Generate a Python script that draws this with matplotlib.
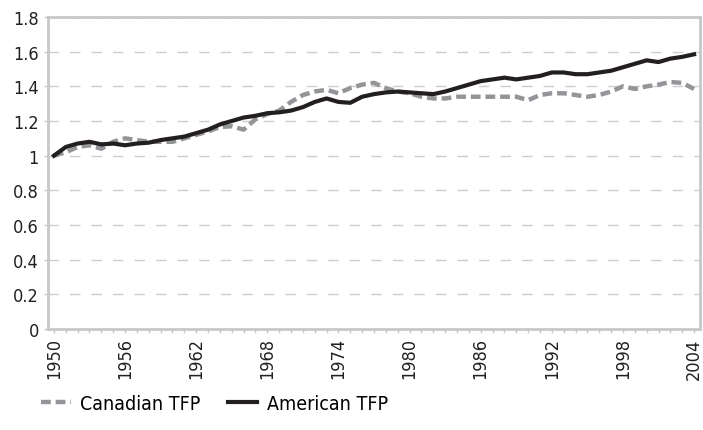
import matplotlib
matplotlib.use("Agg")
import matplotlib.pyplot as plt
from matplotlib.ticker import FuncFormatter

plt.rcParams['font.family'] = ['DejaVu Sans']
plt.rcParams['font.stretch'] = 'condensed'

years = list(range(1950, 2005))

canadian_tfp = [1.00, 1.02, 1.05, 1.06, 1.04, 1.08, 1.10, 1.09, 1.08, 1.08,
                1.08, 1.10, 1.12, 1.14, 1.165, 1.17, 1.15, 1.21, 1.24, 1.26,
                1.31, 1.35, 1.37, 1.38, 1.36, 1.39, 1.41, 1.42, 1.39, 1.37,
                1.36, 1.34, 1.33, 1.33, 1.34, 1.34, 1.34, 1.34, 1.34, 1.34,
                1.32, 1.35, 1.36, 1.36, 1.35, 1.34, 1.35, 1.37, 1.40, 1.385,
                1.40, 1.41, 1.425, 1.42, 1.385]

american_tfp = [1.00, 1.05, 1.07, 1.08, 1.065, 1.07, 1.06, 1.07, 1.075, 1.09,
                1.10, 1.11, 1.13, 1.15, 1.18, 1.20, 1.22, 1.23, 1.245, 1.25,
                1.26, 1.28, 1.31, 1.33, 1.31, 1.305, 1.34, 1.355, 1.365, 1.37,
                1.365, 1.36, 1.355, 1.37, 1.39, 1.41, 1.43, 1.44, 1.45, 1.44,
                1.45, 1.46, 1.48, 1.48, 1.47, 1.47, 1.48, 1.49, 1.51, 1.53,
                1.55, 1.54, 1.56, 1.57, 1.585]

xtick_years = list(range(1950, 2005, 6))
yticks = [0, 0.2, 0.4, 0.6, 0.8, 1.0, 1.2, 1.4, 1.6, 1.8]

frame_col = '#c8c8c8'

fig = plt.figure(figsize=(7.03, 4.31), dpi=100)
ax = fig.add_axes([48 / 703, 1 - 330 / 431, 652 / 703, 312 / 431])

ax.plot(years, canadian_tfp, color='#939598', lw=3.2, dashes=(2.2, 1.1),
        label='Canadian TFP', solid_capstyle='butt', dash_capstyle='butt')
ax.plot(years, american_tfp, color='#231f20', lw=3.0, label='American TFP')

ax.set_xlim(1949.5, 2004.5)
ax.set_ylim(0, 1.8)
ax.set_yticks(yticks)
ax.yaxis.set_major_formatter(FuncFormatter(lambda v, p: '{:g}'.format(round(v, 1))))
ax.set_xticks(xtick_years)
ax.set_xticks(years, minor=True)
ax.set_xticklabels([str(y) for y in xtick_years], rotation=90)

ax.grid(axis='y', color='#cccccc', lw=1, dashes=(7.5, 8))
ax.set_axisbelow(True)
for s in ax.spines.values():
    s.set_color(frame_col)
    s.set_linewidth(2)

ax.tick_params(axis='both', which='both', color=frame_col, length=3, width=1,
               labelsize=13, labelcolor='#231f20')
ax.tick_params(axis='x', which='major', pad=3)

fig.legend(loc='center left', bbox_to_anchor=(0.034, 0.062), ncol=2, frameon=False,
           fontsize=14, handlelength=1.5, columnspacing=1.4, handletextpad=0.5)

fig.savefig('out.png', dpi=100)
